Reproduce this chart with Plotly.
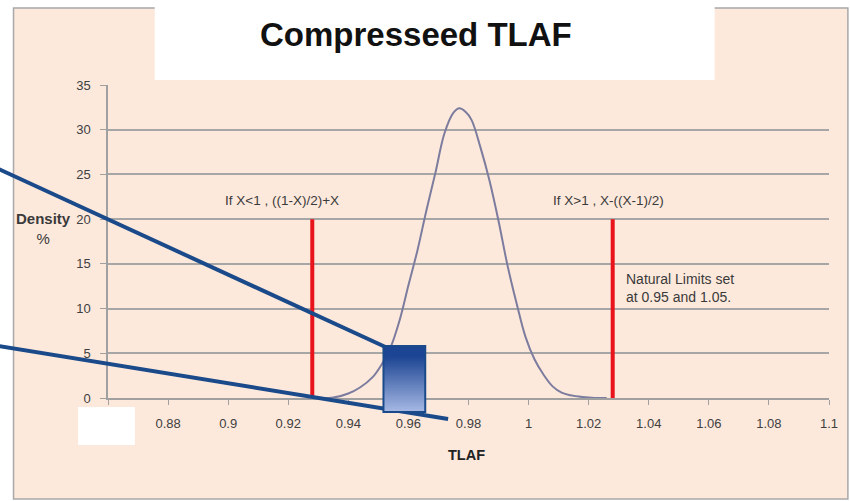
import plotly.graph_objects as go

# ---- data ----
tlaf = [0.930, 0.935, 0.940, 0.944, 0.948, 0.951, 0.954, 0.957, 0.960, 0.963,
        0.966, 0.969, 0.972, 0.975, 0.977, 0.979, 0.981, 0.984, 0.987, 0.990,
        0.993, 0.996, 0.999, 1.002, 1.005, 1.008, 1.011, 1.014, 1.018, 1.022, 1.026]
density = [0.0, 0.05, 0.5, 1.2, 2.3, 3.7, 5.6, 8.6, 12.6, 16.5,
           21.0, 25.2, 29.6, 31.9, 32.4, 32.0, 31.1, 28.0, 24.3, 19.8,
           14.8, 10.6, 6.8, 4.3, 2.6, 1.3, 0.6, 0.3, 0.1, 0.0, 0.0]
limit_x = [0.928, 1.028]
limit_y = [0, 20]
x_ticks = [0.86, 0.88, 0.9, 0.92, 0.94, 0.96, 0.98, 1.0, 1.02, 1.04, 1.06, 1.08, 1.1]
x_tick_labels = ["0.86", "0.88", "0.9", "0.92", "0.94", "0.96", "0.98", "1", "1.02",
                 "1.04", "1.06", "1.08", "1.1"]
y_ticks = [0, 5, 10, 15, 20, 25, 30, 35]

W, H = 850, 501
L, R, T, B = 108, 17, 85, 103
PW, PH = W - L - R, H - T - B


def px(x):
    return (x - L) / PW


def py(y):
    return (H - B - y) / PH


fig = go.Figure()
fig.add_trace(go.Scatter(x=tlaf, y=density, mode="lines",
                         line=dict(color="#7C7C9E", width=2, shape="spline"),
                         hoverinfo="skip", showlegend=False))
for lx in limit_x:
    fig.add_trace(go.Scatter(x=[lx, lx], y=limit_y, mode="lines",
                             line=dict(color="#E8131B", width=4),
                             hoverinfo="skip", showlegend=False))

shapes = []
# peach chart background and white title box (below plot area)
shapes.append(dict(type="rect", xref="paper", yref="paper", layer="below",
                   x0=px(13), x1=px(852), y0=py(8), y1=py(499),
                   fillcolor="#FDE9DC", line=dict(color="#A8A8A8", width=1.5)))
shapes.append(dict(type="rect", xref="paper", yref="paper", layer="below",
                   x0=px(155), x1=px(718), y0=py(-2), y1=py(80),
                   fillcolor="#FFFFFF", line=dict(width=0)))
# white box over first x label
shapes.append(dict(type="rect", xref="paper", yref="paper", layer="above",
                   x0=px(78), x1=px(135), y0=py(407), y1=py(445),
                   fillcolor="#FFFFFF", line=dict(width=0)))
# callout lines
shapes.append(dict(type="line", xref="paper", yref="paper", layer="above",
                   x0=px(-2), y0=py(169), x1=px(387), y1=py(347),
                   line=dict(color="#1B4A8A", width=4)))
shapes.append(dict(type="line", xref="paper", yref="paper", layer="above",
                   x0=px(-2), y0=py(346), x1=px(450), y1=py(419),
                   line=dict(color="#1B4A8A", width=4)))
# gradient rectangle
rx0, rx1, ry0, ry1 = 385, 427, 346, 412
top_c = (0x1C, 0x45, 0x93)
bot_c = (0xA6, 0xB8, 0xE4)
n = 44
for i in range(n):
    t = i / (n - 1)
    tt = max(0.0, (t - 0.15) / 0.85)
    c = tuple(int(top_c[k] + (bot_c[k] - top_c[k]) * tt) for k in range(3))
    y0 = ry0 + (ry1 - ry0) * i / n
    y1 = ry0 + (ry1 - ry0) * (i + 1) / n
    shapes.append(dict(type="rect", xref="paper", yref="paper", layer="above",
                       x0=px(rx0), x1=px(rx1), y0=py(y0), y1=py(y1 + 0.6),
                       fillcolor="rgb(%d,%d,%d)" % c, line=dict(width=0)))
shapes.append(dict(type="rect", xref="paper", yref="paper", layer="above",
                   x0=px(rx0), x1=px(rx1), y0=py(ry0), y1=py(ry1),
                   fillcolor="rgba(0,0,0,0)", line=dict(color="#1B4A8A", width=2)))

txt = "#3A3A3A"
fam = "Liberation Sans, Arial"
annotations = [
    dict(text="<b>Compresseed TLAF</b>", xref="paper", yref="paper",
         x=px(418), y=py(35), showarrow=False, xanchor="center", yanchor="middle",
         font=dict(family=fam, size=33, color="#111111")),
    dict(text="If X<1 , ((1-X)/2)+X", xref="x", yref="paper",
         x=0.918, y=py(200), showarrow=False, xanchor="center", yanchor="middle",
         font=dict(family=fam, size=13.5, color=txt)),
    dict(text="If X>1 , X-((X-1)/2)", xref="x", yref="paper",
         x=1.0265, y=py(200), showarrow=False, xanchor="center", yanchor="middle",
         font=dict(family=fam, size=13.5, color=txt)),
    dict(text="Natural Limits set<br>at 0.95 and 1.05.", xref="paper", yref="paper",
         x=px(627), y=py(288), showarrow=False, xanchor="left", yanchor="middle",
         align="left",
         font=dict(family=fam, size=14, color=txt)),
    dict(text="<b>Density</b><br>%", xref="paper", yref="paper",
         x=px(43), y=py(228), showarrow=False, xanchor="center", yanchor="middle",
         font=dict(family=fam, size=15, color=txt)),
    dict(text="<b>TLAF</b>", xref="paper", yref="paper",
         x=px(468), y=py(455), showarrow=False, xanchor="center", yanchor="middle",
         font=dict(family=fam, size=14.5, color="#222222")),
]

fig.update_layout(
    width=W, height=H,
    margin=dict(l=L, r=R, t=T, b=B, pad=0),
    paper_bgcolor="#FFFFFF",
    plot_bgcolor="#F2F2F2",
    shapes=shapes,
    annotations=annotations,
    showlegend=False,
    xaxis=dict(range=[0.86, 1.1], tickvals=x_ticks, ticktext=x_tick_labels,
               showgrid=False, zeroline=False, showline=True, linecolor="#A0A0A0",
               linewidth=1.5, ticks="outside", ticklen=5, tickcolor="#A0A0A0",
               ticklabelstandoff=8,
               tickfont=dict(family=fam, size=13, color="#404040")),
    yaxis=dict(range=[0, 35], tickvals=y_ticks, showgrid=True, gridcolor="#A6A6A6",
               gridwidth=1.5, zeroline=False, showline=True, linecolor="#A0A0A0",
               linewidth=1.5, ticks="outside", ticklen=6, tickcolor="#A0A0A0",
               ticklabelstandoff=7,
               tickfont=dict(family=fam, size=13, color="#404040")),
)

fig.write_html("out.html")
